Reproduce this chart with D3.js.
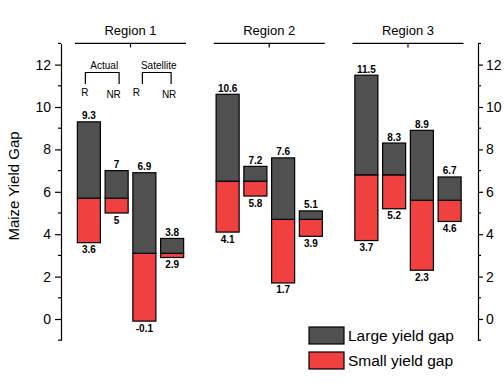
<!DOCTYPE html>
<html>
<head>
<meta charset="utf-8">
<script src="https://cdn.jsdelivr.net/npm/d3@7/dist/d3.min.js"></script>
<style>
  html, body { margin: 0; padding: 0; background: #fff; }
  svg { display: block; font-family: "Liberation Sans", Arial, sans-serif; }
</style>
</head>
<body>
<svg id="chart" width="504" height="387"></svg>
<script>
// ---- data ----
const regions = ["Region 1", "Region 2", "Region 3"];
const barTypes = ["R-Actual", "NR-Actual", "R-Satellite", "NR-Satellite"];
const lowValues   = [3.6, 5.0, -0.1, 2.9,   4.1, 5.8, 1.7, 3.9,   3.7, 5.2, 2.3, 4.6];
const splitValues = [5.7, 5.7, 3.1, 3.1,    6.5, 6.5, 4.7, 4.7,   6.8, 6.8, 5.6, 5.6];
const highValues  = [9.3, 7.0, 6.9, 3.8,   10.6, 7.2, 7.6, 5.1,  11.5, 8.3, 8.9, 6.7];
const lowLabels   = ["3.6", "5", "-0.1", "2.9", "4.1", "5.8", "1.7", "3.9", "3.7", "5.2", "2.3", "4.6"];
const highLabels  = ["9.3", "7", "6.9", "3.8", "10.6", "7.2", "7.6", "5.1", "11.5", "8.3", "8.9", "6.7"];
const yTicks = [0, 2, 4, 6, 8, 10, 12];
const yMinorTicks = [-1, 1, 3, 5, 7, 9, 11, 13];
const seriesNames = ["Large yield gap", "Small yield gap"];
const seriesColors = ["#505050", "#f04040"];
const yTitle = "Maize Yield Gap";

// ---- build ----
const svg = d3.select("#chart");

// slots: 4 bars per region plus one empty slot between regions
const slots = [];
regions.forEach((r, ri) => {
  barTypes.forEach((b) => slots.push(r + "|" + b));
  if (ri < regions.length - 1) slots.push("gap" + ri);
});

const x = d3.scaleBand().domain(slots).range([75, 463.5]).paddingInner(0.17).paddingOuter(0.085);
const y = d3.scaleLinear().domain([-1, 13]).range([340.2, 43.4]);
const step = x.step();
const halfGap = step * 0.17 / 2;

const bars = [];
regions.forEach((r, ri) => {
  barTypes.forEach((b, bi) => {
    const i = ri * barTypes.length + bi;
    bars.push({ key: r + "|" + b, low: lowValues[i], split: splitValues[i], high: highValues[i],
                lowLabel: lowLabels[i], highLabel: highLabels[i] });
  });
});

// axes
const leftAxis = d3.axisLeft(y).tickValues(yTicks).tickSize(6).tickSizeOuter(0).tickPadding(4).tickFormat(d3.format("d"));
const rightAxis = d3.axisRight(y).tickValues(yTicks).tickSize(5).tickSizeOuter(0).tickPadding(3).tickFormat(d3.format("d"));

function styleAxis(g) {
  g.select(".domain").attr("stroke", "#000").attr("stroke-width", 1.2);
  g.selectAll(".tick line").attr("stroke", "#000").attr("stroke-width", 1.2);
  g.selectAll(".tick text").attr("font-size", 14).attr("fill", "#000").attr("font-family", "Liberation Sans, Arial, sans-serif");
}

const gl = svg.append("g").attr("transform", "translate(61,0)").call(leftAxis).call(styleAxis);
gl.selectAll(".minor").data(yMinorTicks).enter().append("line")
  .attr("x1", -3).attr("x2", 0).attr("y1", d => y(d)).attr("y2", d => y(d))
  .attr("stroke", "#000").attr("stroke-width", 1.2);

const gr = svg.append("g").attr("transform", "translate(478,0)").call(rightAxis).call(styleAxis);
gr.selectAll(".minor").data(yMinorTicks).enter().append("line")
  .attr("x1", 0).attr("x2", 3).attr("y1", d => y(d)).attr("y2", d => y(d))
  .attr("stroke", "#000").attr("stroke-width", 1.2);

// y title
svg.append("text")
  .attr("transform", `translate(19,186) rotate(-90)`)
  .attr("text-anchor", "middle").attr("font-size", 15).attr("fill", "#000")
  .text(yTitle);

// region top axes
regions.forEach((r) => {
  const x0 = x(r + "|" + barTypes[0]) - halfGap;
  const x1 = x(r + "|" + barTypes[barTypes.length - 1]) + x.bandwidth() + halfGap;
  const yt = y(13);
  svg.append("line").attr("x1", x0).attr("x2", x1).attr("y1", yt).attr("y2", yt)
    .attr("stroke", "#000").attr("stroke-width", 1.2);
  svg.append("line").attr("x1", (x0 + x1) / 2).attr("x2", (x0 + x1) / 2).attr("y1", yt).attr("y2", yt + 4)
    .attr("stroke", "#000").attr("stroke-width", 1.2);
  svg.append("text").attr("x", (x0 + x1) / 2).attr("y", yt - 8)
    .attr("text-anchor", "middle").attr("font-size", 13).attr("fill", "#000").text(r);
});

// bars
const bg = svg.append("g");
bars.forEach((d) => {
  const bx = x(d.key), bw = x.bandwidth();
  bg.append("rect").attr("x", bx).attr("width", bw)
    .attr("y", y(d.split)).attr("height", y(d.low) - y(d.split))
    .attr("fill", seriesColors[1]).attr("stroke", "#000").attr("stroke-width", 1.2);
  bg.append("rect").attr("x", bx).attr("width", bw)
    .attr("y", y(d.high)).attr("height", y(d.split) - y(d.high))
    .attr("fill", seriesColors[0]).attr("stroke", "#000").attr("stroke-width", 1.2);
  bg.append("text").attr("x", bx + bw / 2).attr("y", y(d.high) - 2.5)
    .attr("text-anchor", "middle").attr("font-size", 10).attr("font-weight", "bold").text(d.highLabel);
  bg.append("text").attr("x", bx + bw / 2).attr("y", y(d.low) + 10.5)
    .attr("text-anchor", "middle").attr("font-size", 10).attr("font-weight", "bold").text(d.lowLabel);
});

// bracket annotations in region 1
const annGroups = [
  { name: "Actual", a: regions[0] + "|" + barTypes[0], b: regions[0] + "|" + barTypes[1] },
  { name: "Satellite", a: regions[0] + "|" + barTypes[2], b: regions[0] + "|" + barTypes[3] }
];
const ag = svg.append("g");
annGroups.forEach((g, gi) => {
  const ca = x(g.a) + x.bandwidth() / 2, cb = x(g.b) + x.bandwidth() / 2;
  const xa = ca - (gi === 0 ? 3.5 : 2), xb = cb + (gi === 0 ? 2.5 : -1);
  ag.append("path")
    .attr("d", `M${xa},84 V72.5 H${xb} V84`)
    .attr("fill", "none").attr("stroke", "#000").attr("stroke-width", 1.2);
  ag.append("text").attr("x", (xa + xb) / 2 + 2).attr("y", 68.5)
    .attr("text-anchor", "middle").attr("font-size", 10).text(g.name);
  ag.append("text").attr("x", ca - (gi === 0 ? 4 : 8)).attr("y", 96)
    .attr("text-anchor", "middle").attr("font-size", 10).text("R");
  ag.append("text").attr("x", cb - (gi === 0 ? 3 : 3)).attr("y", 97.5)
    .attr("text-anchor", "middle").attr("font-size", 10).text("NR");
});

// legend
const lg = svg.append("g").attr("transform", "translate(309,327)");
seriesNames.forEach((n, i) => {
  lg.append("rect").attr("x", 0).attr("y", i * 25).attr("width", 35).attr("height", 17)
    .attr("fill", seriesColors[i]).attr("stroke", "#000").attr("stroke-width", 1.2);
  lg.append("text").attr("x", 39).attr("y", i * 25 + 14).attr("font-size", 15.5).attr("fill", "#000").text(n);
});
</script>
</body>
</html>
